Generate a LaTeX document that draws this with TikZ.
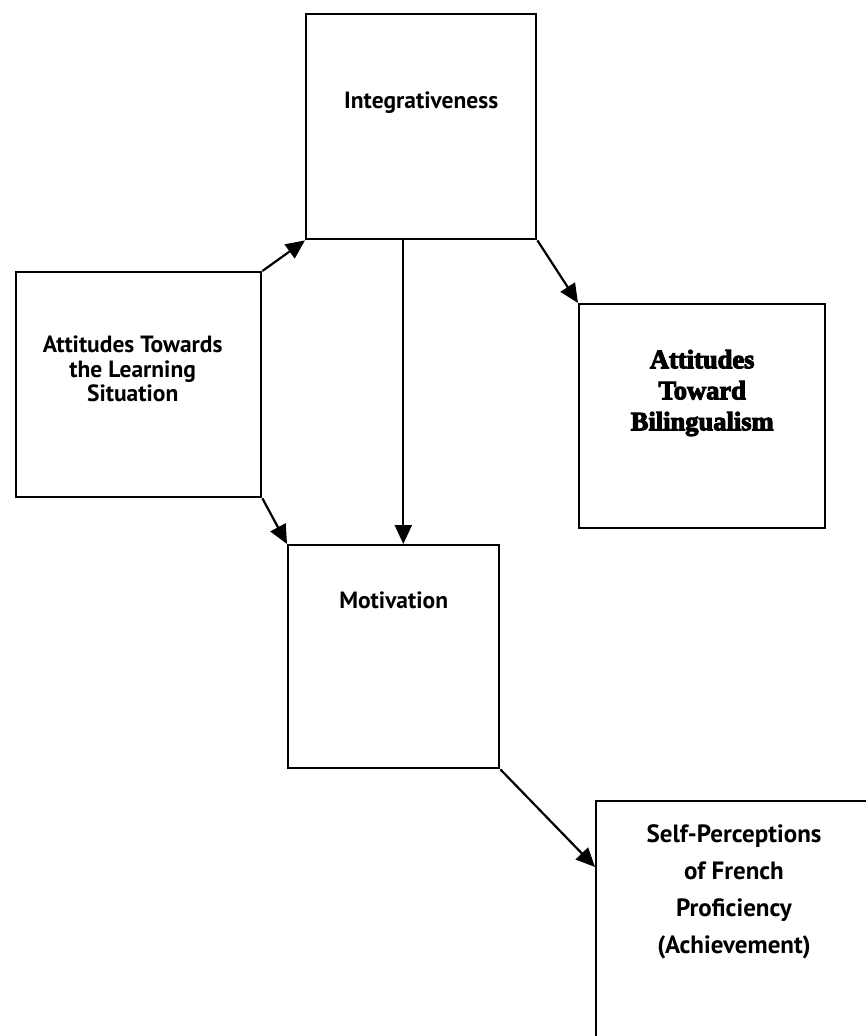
\documentclass[tikz,border=0pt]{standalone}
\usepackage{fontspec}
\setmainfont{PT Sans}
\newfontface\boxfont{PT Sans Bold}
\newfontface\bilfont[FakeBold=4]{Liberation Serif Bold}
\usetikzlibrary{arrows.meta,calc}
\tikzset{
  box/.style={draw, line width=2.4pt, anchor=north west, inner sep=0pt},
  label text/.style={align=center, font=\fontsize{23.5}{24.5}\selectfont\boxfont},
  link/.style={line width=2.2pt, -{Triangle[length=19pt,width=17pt]}}
}
\begin{document}
\begin{tikzpicture}[x=1pt,y=-1pt]
  \useasboundingbox (0,0) rectangle (866,1036);

  % boxes
  \node[box, minimum width=230pt, minimum height=225pt] (integ) at (305,13) {};
  \node[box, minimum width=245pt, minimum height=225pt] (att) at (15,271) {};
  \node[box, minimum width=246pt, minimum height=224pt] (bil) at (578,303) {};
  \node[box, minimum width=211pt, minimum height=223pt] (mot) at (287,544) {};
  \node[box, minimum width=300pt, minimum height=270pt] (self) at (595,800) {};

  % box texts
  \node[label text] (integtxt) at ($(integ.north)+(0,90)$) {Integrativeness};
  \node[label text] (atttxt) at ($(att.north)+(-6,98)$)
    {Attitudes Towards\\the Learning\\Situation};
  \node[label text, font=\fontsize{26.5}{31}\selectfont\bilfont] (biltxt) at ($(bil.north)+(0,90)$)
    {Attitudes\\Toward\\Bilingualism};
  \node[label text] (mottxt) at ($(mot.north)+(0,56)$) {Motivation};
  \node[label text, font=\fontsize{25}{37}\selectfont\boxfont] (selftxt) at ($(self.north west)+(139,92)$)
    {Self-Perceptions\\of French\\Proficiency\\(Achievement)};

  % connector end points
  \coordinate (mtop) at ($(mot.north west)!0.545!(mot.north east)$);
  \coordinate (selfin) at ($(self.north west)+(0,67)$);

  % connectors
  \draw[link] (att.north east) -- (integ.south west);
  \draw[link] (att.south east) -- (mot.north west);
  \draw[link] (integ.south -| mtop) -- (mtop);
  \draw[link] (integ.south east) -- (bil.north west);
  \draw[link] (mot.south east) -- (selfin);
\end{tikzpicture}
\end{document}
